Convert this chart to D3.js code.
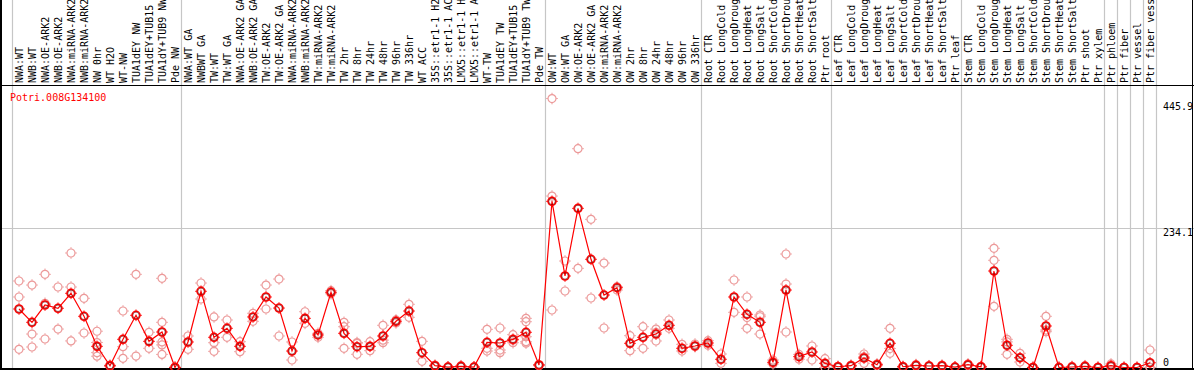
<!DOCTYPE html>
<html lang="en">
<head>
<meta charset="UTF-8">
<title>Potri.008G134100</title>
<style>
  body { margin: 0; background: white; }
  text { font-family: "DejaVu Sans Mono", monospace; font-size: 10px; }
</style>
</head>
<body>
<svg id="chart" width="1194" height="370"></svg>
<script src="https://d3js.org/d3.v7.min.js"></script>
<script>
// sample names, one per column
var labels = ["NWA:WT","NWB:WT","NWA:OE-ARK2","NWB:OE-ARK2","NWA:miRNA-ARK2","NWB:miRNA-ARK2","NW 0hr","WT H2O","WT-NW","TUA1dEY NW","TUA1dEY+TUB15 NW","TUA1dY+TUB9 NW","Pde NW",
  "NWA:WT GA","NWBWT GA","TW:WT","TW:WT GA","NWA:OE-ARK2 GA","NWB:OE-ARK2 GA","TW:OE-ARK2","TW:OE-ARK2 GA","NWA:miRNA-ARK2 GA","NWB:miRNA-ARK2 GA","TW:miRNA-ARK2","TW:miRNA-ARK2 GA",
  "TW 2hr","TW 8hr","TW 24hr","TW 48hr","TW 96hr","TW 336hr","WT ACC","35S::etr1-1 H2O","35S::etr1-1 ACC","LMX5::etr1-1 H2O","LMX5::etr1-1 ACC","WT-TW","TUA1dEY TW","TUA1dEY+TUB15 TW","TUA1dY+TUB9 TW","Pde TW",
  "OW:WT","OW:WT GA","OW:OE-ARK2","OW:OE-ARK2 GA","OW:miRNA-ARK2","OW:miRNA-ARK2 GA","OW 2hr","OW 8hr","OW 24hr","OW 48hr","OW 96hr","OW 336hr",
  "Root CTR","Root LongCold","Root LongDrought","Root LongHeat","Root LongSalt","Root ShortCold","Root ShortDrought","Root ShortHeat","Root ShortSalt","Ptr root",
  "Leaf CTR","Leaf LongCold","Leaf LongDrought","Leaf LongHeat","Leaf LongSalt","Leaf ShortCold","Leaf ShortDrought","Leaf ShortHeat","Leaf ShortSalt","Ptr leaf",
  "Stem CTR","Stem LongCold","Stem LongDrought","Stem LongHeat","Stem LongSalt","Stem ShortCold","Stem ShortDrought","Stem ShortHeat","Stem ShortSalt","Ptr shoot",
  "Ptr xylem","Ptr phloem","Ptr fiber","Ptr vessel","Ptr fiber vessel"];

// mean expression per sample
var means = [98.4,76.0,105.1,99.6,124.8,86.1,35.6,3,47.4,87.8,44,59.7,0,
  42.9,128.2,50.8,65.9,35.6,85,118.6,100,27.7,82.7,54.7,126.5,57.5,35,35.6,53,77.7,95,24.9,3,0.8,2,0.8,42.4,41.2,47.4,59.2,4.2,
  279.5,153.9,267.7,182,121.9,134.2,40.7,50.8,56.3,71,32.3,36.2,
  41.2,13.8,118.6,89.5,76,8.7,130.3,18.2,26.1,7,
  1.3,3,16,4.7,40.7,1.3,3.7,2.5,3,0.8,
  4.7,1.3,162.3,37.3,16.5,0,69.8,0,0.8,2,
  0,3,0,0,8];

// replicate values per sample
var reps = [[145.5,118.6,30.6],[138.7,56.3,34.5],[156.7,108,47.9],[135.4,64.7],[192.6,135.4,44.7],[116.4,58],[61,42,25,19],[4,2],[95,35,15.5],[156.7,19.3],[59.2,32.3],[150,76,43,38,22],[1,0],
  [53,30.6],[142.1,115.2],[85,41.7,27.2],[79.9,50.8],[43.4,26.6],[91.2,77.7],[138.7,98.4],[148.8,53],[42.9,12.6],[93.8,74.3],[57.5,50.8],[129.2,124],[76,68.6,32.3],[40.7,22.2,42],[43.4,28.3],[71,41.7,46],[80,75],[106.3,84.4],[44,10.4],[4,2],[1,0.5],[3,1],[1,0.5],[64.2,32.3,27.7],[66.4,29.4,24.9],[55.2,41.7,46],[82.7,77,51.8,43.4,41],[5,3],
  [452.4,288.4,96.7],[179.1,128.7],[368,166.8],[249.2,116.9],[175.7,66.4],[135.9,130.3],[53.5,28.3],[68.6,32.3],[64.7,44.6,59],[79.9,65.9],[39,27.7],[39.5,35],
  [45.1,37.3],[22.7,7],[147.2,92.8],[118.6,65.9,84],[88.3,85.4,56.3],[12.6,5.9],[190.9,140.4,59.7],[22,14],[36.2,12.6],[14.8,0],
  [2,0.5],[4,2],[22.7,7,18],[6,3],[65.9,23.9,32],[2,0.5],[5,2.5],[3,2],[4,2],[1,0.5],
  [6,3.5],[2,0.5],[200.5,180.3,102.9],[47.4,22.2,43],[23.9,9.2,16],[0.5,0],[86.1,60.2,63],[0.5,0],[2,0],[3,1],
  [0.5,0],[6,1],[0.5,0],[0.5,0],[29.4,0,0]];

// group separators sit between these column positions
var separators = [-0.5,12.5,40.5,52.5,62.5,72.5,83.5,84.5,85.5,86.5,87.5];
var yTicks = [445.9, 234.1, 0];
var geneName = "Potri.008G134100";

var W = 1194, H = 370, headerH = 85;
var svg = d3.select("#chart");

var x = d3.scaleLinear().domain([0, labels.length - 1]).range([19, 1150]);
var y = d3.scaleLinear().domain([0, 445.9]).range([367.5, 102.4]);

// grey grid
svg.selectAll(".sep").data(separators).enter().append("line")
   .attr("x1", function(d){ return Math.round(x(d)) - 0.5 })
   .attr("x2", function(d){ return Math.round(x(d)) - 0.5 })
   .attr("y1", 0).attr("y2", H)
   .style("stroke", "#c6c6c6").style("stroke-width", 1.2)

svg.append("line")
   .attr("x1", 0).attr("x2", W)
   .attr("y1", Math.round(y(234.1)) + 0.5).attr("y2", Math.round(y(234.1)) + 0.5)
   .style("stroke", "#c6c6c6").style("stroke-width", 1.2)

// frame
svg.append("line").attr("x1", 0).attr("x2", W).attr("y1", headerH + 0.5).attr("y2", headerH + 0.5).style("stroke", "black")
svg.append("line").attr("x1", 0).attr("x2", W).attr("y1", H - 1).attr("y2", H - 1).style("stroke", "black").style("stroke-width", 2)
svg.append("line").attr("x1", 1).attr("x2", 1).attr("y1", 0).attr("y2", H).style("stroke", "black").style("stroke-width", 2)
svg.append("line").attr("x1", 1192.5).attr("x2", 1192.5).attr("y1", 0).attr("y2", H).style("stroke", "black")

// rotated sample labels
svg.selectAll(".lab").data(labels).enter().append("text")
   .attr("transform", function(d, i){ return "translate(" + x(i) + "," + (headerH - 2) + ") rotate(-90)" })
   .attr("dy", "0.36em")
   .style("fill", "black")
   .text(function(d){ return d })

// right value labels
svg.selectAll(".ytick").data(yTicks).enter().append("text")
   .attr("x", 1163)
   .attr("y", function(d){ return d == 0 ? y(d) - 1.5 : y(d) + 8 })
   .style("fill", "black")
   .text(function(d){ return d })

svg.append("text").attr("x", 10).attr("y", 101).style("fill", "red").text(geneName)

// marker: small circle with 4 ticks
function marker(g, color, sw) {
    g.append("circle").attr("r", 4).style("fill", "none").style("stroke", color).style("stroke-width", sw)
    g.append("path").attr("d", "M0,-5.8V-4.2M0,4.2V5.8M-5.8,0H-4.2M4.2,0H5.8")
     .style("stroke", color).style("stroke-width", 1)
}

// replicate points
var repPts = [];
reps.forEach(function(r, i){ r.forEach(function(v){ repPts.push({i: i, v: v}) }) })
svg.selectAll(".rep").data(repPts).enter().append("g")
   .attr("transform", function(d){ return "translate(" + x(d.i) + "," + y(d.v) + ")" })
   .each(function(){ marker(d3.select(this), "#ec9a9a", 1.2) })

// mean line
var line = d3.line().x(function(d, i){ return x(i) }).y(function(d){ return y(d) })
svg.append("path").datum(means).attr("d", line)
   .style("fill", "none").style("stroke", "red").style("stroke-width", 1.2)

svg.selectAll(".mean").data(means).enter().append("g")
   .attr("transform", function(d, i){ return "translate(" + x(i) + "," + y(d) + ")" })
   .each(function(){
       var g = d3.select(this)
       marker(g, "red", 1.6)
       g.append("circle").attr("r", 3.2).style("fill", "none").style("stroke", "#600").style("stroke-width", 0.6)
   })
</script>
</body>
</html>
